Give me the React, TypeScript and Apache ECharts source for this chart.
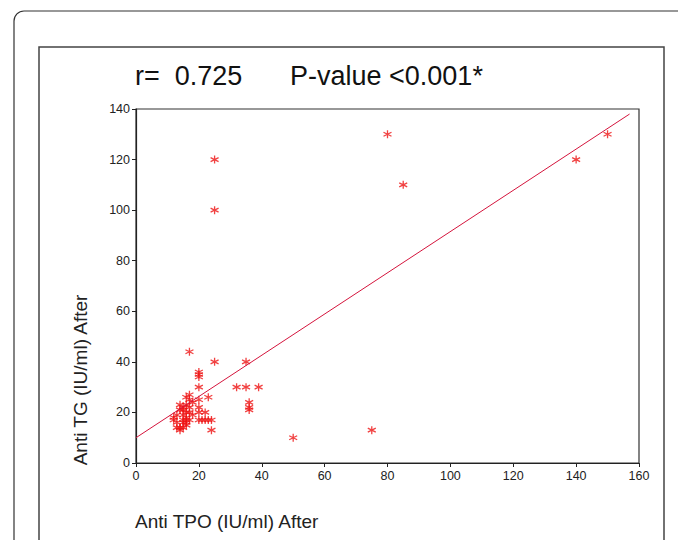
import React, { useEffect, useRef } from "react";
import * as echarts from "echarts";

const titleLeft = "r=  0.725";
const titleRight = "P-value <0.001*";
const xAxisName = "Anti TPO (IU/ml) After";
const yAxisName = "Anti TG (IU/ml) After";

const xMin = 0, xMax = 160, xStep = 20;
const yMin = 0, yMax = 140, yStep = 20;

// scatter points [Anti TPO, Anti TG]
const outlierPoints: number[][] = [
  [25, 120], [25, 100], [80, 130], [85, 110], [140, 120], [150, 130],
  [17, 44], [25, 40], [35, 40], [32, 30], [35, 30], [39, 30],
  [36, 24], [36, 22], [36, 21], [50, 10], [75, 13],
];
const clusterPoints: number[][] = [
  [20, 34], [20, 35], [20, 36], [20, 30], [23, 26], [17, 27], [17, 25], [16, 23],
  [20, 25], [20, 22], [20, 20], [22, 20], [20, 17], [21, 17], [22, 17], [23, 17],
  [24, 17], [24, 13], [12, 17], [12, 18], [13, 19], [14, 21], [15, 22], [15, 21],
  [16, 20], [14, 23], [15, 19], [15, 16], [16, 15], [14, 14], [14, 13], [15, 14],
  [16, 16], [17, 17], [17, 22], [13, 16], [18, 19], [16, 18], [17, 20], [16, 26],
  [18, 24], [13, 14], [15, 17], [16, 17],
];
// fitted regression line endpoints
const fitLine: number[][] = [[0, 10], [157, 138]];

const asterisk = "path://M0,-5L0,5M-4.33,-2.5L4.33,2.5M-4.33,2.5L4.33,-2.5";
const font = "Arial, Liberation Sans, sans-serif";

export default function App() {
  const ref = useRef<HTMLDivElement>(null);
  useEffect(() => {
    if (!ref.current) return;
    const chart = echarts.init(ref.current, null, { renderer: "svg" });
    const axisLabel = { color: "#222", fontSize: 12.5, fontFamily: font };
    chart.setOption({
      animation: false,
      backgroundColor: "#fff",
      title: [
        { text: titleLeft, left: 135, top: 62, padding: 0, textStyle: { fontSize: 27, fontWeight: "normal", color: "#111", fontFamily: font } },
        { text: titleRight, left: 290, top: 62, padding: 0, textStyle: { fontSize: 27, fontWeight: "normal", color: "#111", fontFamily: font } },
      ],
      graphic: [
        { type: "rect", shape: { x: 14, y: 11, width: 720, height: 600, r: 10 }, style: { fill: "none", stroke: "#333", lineWidth: 1.2 }, silent: true },
        { type: "rect", shape: { x: 39, y: 47, width: 625, height: 560 }, style: { fill: "none", stroke: "#444", lineWidth: 1.5 }, silent: true },
        { type: "text", x: 80, y: 380, rotation: Math.PI / 2, style: { text: yAxisName, fontSize: 19, fill: "#222", fontFamily: font, align: "center", verticalAlign: "middle" } },
        { type: "text", x: 135, y: 521, style: { text: xAxisName, fontSize: 19, fill: "#222", fontFamily: font, align: "left", verticalAlign: "middle" } },
      ],
      grid: { left: 136, top: 109, width: 503, height: 354, show: true, borderColor: "#333", borderWidth: 1.2, backgroundColor: "transparent" },
      xAxis: {
        type: "value", min: xMin, max: xMax, interval: xStep,
        axisLine: { show: true, lineStyle: { color: "#222", width: 1.2 } },
        axisTick: { show: true, inside: false, length: 4, lineStyle: { color: "#222" } },
        axisLabel: { ...axisLabel, margin: 6 },
        splitLine: { show: false },
      },
      yAxis: {
        type: "value", min: yMin, max: yMax, interval: yStep,
        axisLine: { show: true, lineStyle: { color: "#222", width: 1.2 } },
        axisTick: { show: true, inside: false, length: 4, lineStyle: { color: "#222" } },
        axisLabel: { ...axisLabel, margin: 6 },
        splitLine: { show: false },
      },
      series: [
        {
          type: "line", data: fitLine, symbol: "none", silent: true,
          lineStyle: { color: "#d4143c", width: 1 },
        },
        {
          type: "scatter", data: [...outlierPoints, ...clusterPoints], symbol: asterisk, symbolSize: 8,
          itemStyle: { color: "none", borderColor: "#ee1111", borderWidth: 1.3 },
        },
      ],
    });
    return () => chart.dispose();
  }, []);
  return <div ref={ref} style={{ position: "absolute", left: 0, top: 0, width: 678, height: 540 }} />;
}
